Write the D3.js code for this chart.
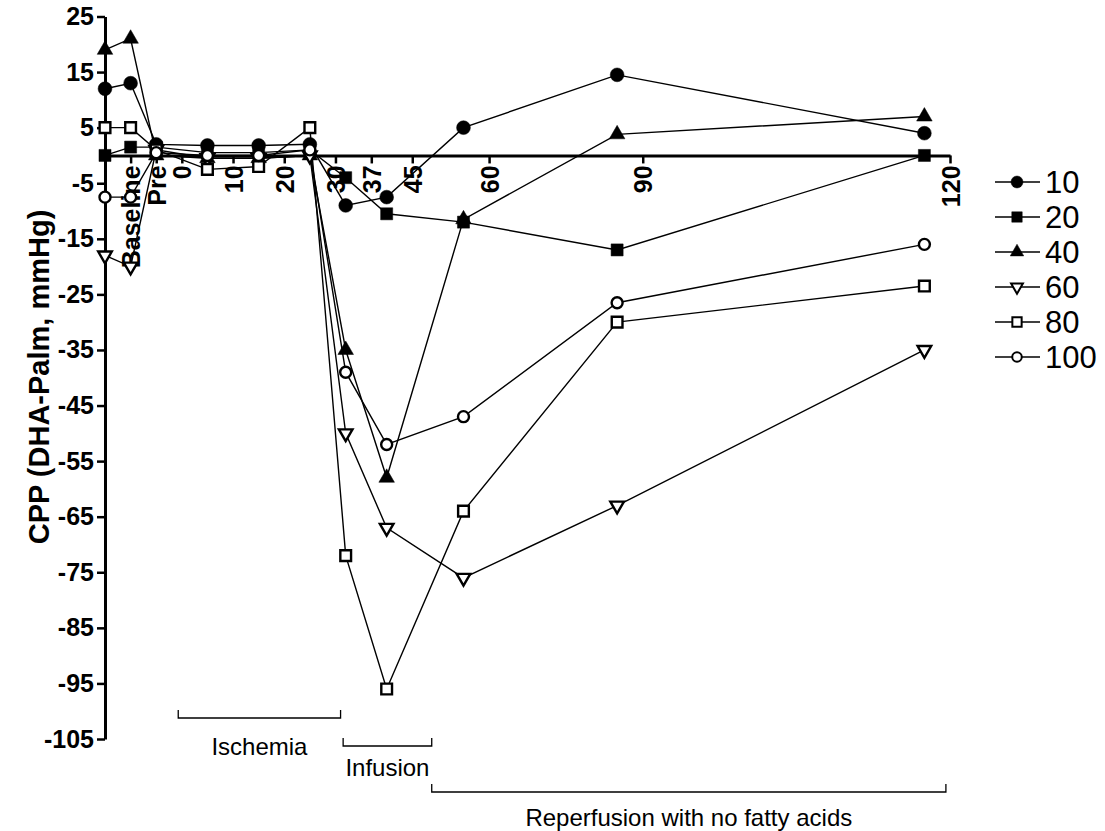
<!DOCTYPE html>
<html>
<head>
<meta charset="utf-8">
<script src="https://cdn.jsdelivr.net/npm/d3@7"></script>
<style>
  body { margin: 0; background: #fff; }
  svg { display: block; font-family: 'Liberation Sans', Arial, sans-serif; }
</style>
</head>
<body>
<svg id="chart" width="1105" height="831"></svg>
<script>
// tick labels on the time axis and where they sit
const timeLabels = ["Baseline", "Pre", "0", "10", "20", "30", "37", "45", "60", "90", "120"];
const timeTicks = [-10, -5, 0, 10, 20, 30, 37, 45, 60, 90, 150];
const yTicks = [25, 15, 5, -5, -15, -25, -35, -45, -55, -65, -75, -85, -95, -105];

// sampling times (axis units)
const sampleX = [-15, -10, -5, 5, 15, 25, 32, 40, 55, 85, 145];

// series values (CPP, mmHg)
const s10 = [12, 13, 2, 1.8, 1.8, 2, -9, -7.5, 5, 14.5, 4];
const s20 = [0, 1.5, 1.5, 0.5, 0.5, 1, -4, -10.5, -12, -17, 0];
const s40 = [19, 21, 0, -0.5, -0.5, 0, -35, -58, -11.5, 3.8, 7];
const s60 = [-18, -20, 1, -0.5, -0.5, 0, -50, -67, -76, -63, -35];
const s80 = [5, 5, 1, -2.5, -2, 5, -72, -96, -64, -30, -23.5];
const s100 = [-7.5, -7.5, 0.5, 0, 0, 1, -39, -52, -47, -26.5, -16];

const seriesNames = ["10", "20", "40", "60", "80", "100"];

// period brackets under the plot
const periodNames = ["Ischemia", "Infusion", "Reperfusion with no fatty acids"];
const periodStart = [-0.7, 31.5, 48.8];
const periodEnd = [31, 48.8, 149.2];

const series = [
    {name: seriesNames[0], values: s10, shape: d3.symbolCircle, size: 150, open: false, rot: 0},
    {name: seriesNames[1], values: s20, shape: d3.symbolSquare, size: 145, open: false, rot: 0},
    {name: seriesNames[2], values: s40, shape: d3.symbolTriangle, size: 105, open: false, rot: 0},
    {name: seriesNames[3], values: s60, shape: d3.symbolTriangle, size: 80, open: true, rot: 180},
    {name: seriesNames[4], values: s80, shape: d3.symbolSquare, size: 115, open: true, rot: 0},
    {name: seriesNames[5], values: s100, shape: d3.symbolCircle, size: 95, open: true, rot: 0}
];

const svg = d3.select("#chart");

const x = d3.scaleLinear().domain([-15, 150]).range([105, 950]);
const y = d3.scaleLinear().domain([-105, 25]).range([739, 16.5]);

// y axis
const yAxis = svg.append("g")
    .attr("transform", "translate(" + x(-15) + ",0)")
    .call(d3.axisLeft(y).tickValues(yTicks).tickFormat(d => String(d))
        .tickSize(8).tickSizeOuter(0).tickPadding(3));

yAxis.select(".domain").attr("stroke", "#000").attr("stroke-width", 3);
yAxis.selectAll(".tick line").attr("stroke", "#000").attr("stroke-width", 2.5);
yAxis.selectAll(".tick text")
    .attr("fill", "#000")
    .style("font-size", "25px")
    .style("font-weight", "bold")
    .style("font-family", "'Liberation Sans', Arial, sans-serif");

// x axis along zero
const xAxis = svg.append("g")
    .attr("transform", "translate(0," + y(0) + ")")
    .call(d3.axisBottom(x).tickValues(timeTicks)
        .tickFormat((d, i) => timeLabels[i]).tickSize(8).tickSizeOuter(0));

xAxis.select(".domain").attr("stroke", "#000").attr("stroke-width", 3);
xAxis.selectAll(".tick line").attr("stroke", "#000").attr("stroke-width", 2.5);
xAxis.selectAll(".tick text")
    .attr("fill", "#000")
    .attr("transform", "rotate(-90)")
    .attr("text-anchor", "end")
    .attr("x", -10)
    .attr("y", 0)
    .attr("dy", "0.36em")
    .style("font-size", "25px")
    .style("font-weight", "bold")
    .style("font-family", "'Liberation Sans', Arial, sans-serif");

// y axis title
svg.append("text")
    .attr("transform", "translate(49," + 377 + ") rotate(-90)")
    .attr("text-anchor", "middle")
    .style("font-size", "29px")
    .style("font-weight", "bold")
    .text("CPP (DHA-Palm, mmHg)");

const line = d3.line()
    .x((d, i) => x(sampleX[i]))
    .y(d => y(d));

const plot = svg.append("g");

series.forEach(s => {
    plot.append("path")
        .datum(s.values)
        .attr("fill", "none")
        .attr("stroke", "#000")
        .attr("stroke-width", 1.4)
        .attr("d", line);
});

series.forEach(s => {
    plot.append("g").selectAll("path")
        .data(s.values)
        .enter()
        .append("path")
        .attr("d", d3.symbol().type(s.shape).size(s.size))
        .attr("transform", (d, i) => "translate(" + x(sampleX[i]) + "," + y(d) + ") rotate(" + s.rot + ")")
        .attr("fill", s.open ? "#fff" : "#000")
        .attr("stroke", "#000")
        .attr("stroke-width", s.open ? 2.4 : 0.5);
});

// legend
const legend = svg.append("g").attr("transform", "translate(995,182)");
series.forEach((s, i) => {
    const row = legend.append("g").attr("transform", "translate(0," + (i * 35) + ")");
    row.append("line")
        .attr("x1", 0).attr("x2", 45)
        .attr("stroke", "#000").attr("stroke-width", 1.6);
    row.append("path")
        .attr("d", d3.symbol().type(s.shape).size(s.size * 0.75))
        .attr("transform", "translate(22,0) rotate(" + s.rot + ")")
        .attr("fill", s.open ? "#fff" : "#000")
        .attr("stroke", "#000")
        .attr("stroke-width", s.open ? 2 : 0.5);
    row.append("text")
        .attr("x", 50)
        .attr("dy", "0.36em")
        .style("font-size", "31px")
        .text(s.name);
});

// period brackets
const bracketY = [718, 746, 792];
const labelY = [755, 776, 826];
periodNames.forEach((name, i) => {
    const x0 = x(periodStart[i]);
    const x1 = x(periodEnd[i]);
    const by = bracketY[i];
    svg.append("path")
        .attr("d", "M" + x0 + "," + (by - 8) + "V" + by + "H" + x1 + "V" + (by - 8))
        .attr("fill", "none")
        .attr("stroke", "#000")
        .attr("stroke-width", 1.3);
    svg.append("text")
        .attr("x", (x0 + x1) / 2)
        .attr("y", labelY[i])
        .attr("text-anchor", "middle")
        .style("font-size", "24px")
        .text(name);
});
</script>
</body>
</html>
